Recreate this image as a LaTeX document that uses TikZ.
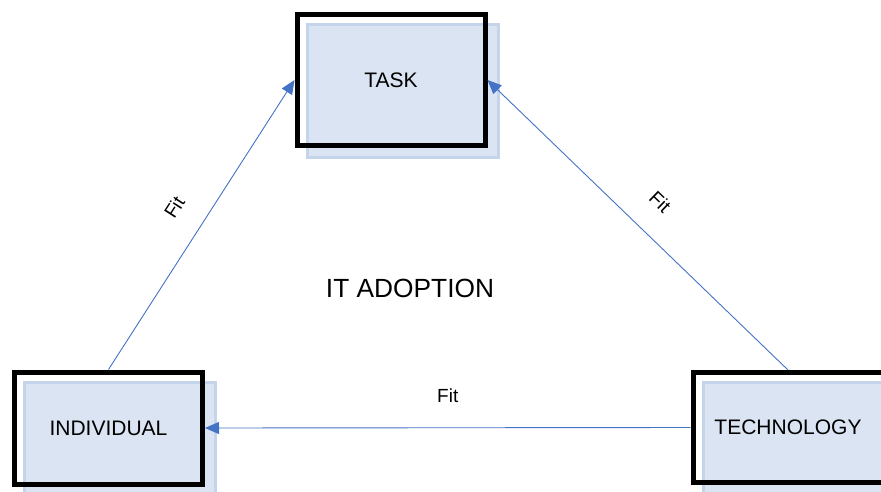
\documentclass[tikz,border=0pt]{standalone}
\usepackage{fontspec}
\setmainfont{Liberation Sans}
\usetikzlibrary{arrows.meta}
\definecolor{shadefill}{RGB}{219,228,242}
\definecolor{shadeline}{RGB}{196,212,234}
\definecolor{linkblue}{RGB}{68,114,196}
\begin{document}
\begin{tikzpicture}[x=1pt,y=-1pt,
  framebox/.style={draw=black,line width=5pt,rectangle,inner sep=0pt,
    font=\fontsize{21}{25}\selectfont},
  shadebox/.style={draw=shadeline,fill=shadefill,line width=3pt,rectangle,inner sep=0pt},
  link/.style={draw=linkblue,line width=0.9pt,-{Triangle[length=14pt,width=12pt]}},
  fitlabel/.style={sloped,pos=0.5,above=25pt,inner sep=0pt,
    font=\fontsize{19}{22}\selectfont},
  ]
\useasboundingbox (0,0) rectangle (881,491);
\begin{scope}
\clip (0,0) rectangle (881,491);
% light blue backing panels, offset down-right
\node[shadebox,minimum width=191pt,minimum height=133pt] (taskbg) at (403,91) {};
\node[shadebox,minimum width=191pt,minimum height=114pt] (indbg) at (120,439) {};
\node[shadebox,minimum width=193pt,minimum height=111pt] (techbg) at (800,438) {};
% black framed boxes
\node[framebox,minimum width=188pt,minimum height=131pt] (task) at (391,80) {TASK};
\node[framebox,minimum width=188pt,minimum height=112pt] (ind) at (108.5,428) {INDIVIDUAL};
\node[framebox,minimum width=190pt,minimum height=110pt] (tech) at (788,427.5) {TECHNOLOGY};
\end{scope}
% connectors
\draw[link] (ind.north) -- (task.west) node[fitlabel] {Fit};
\draw[link] (tech.north) -- (task.east) node[fitlabel] {Fit};
\draw[link] (tech.west) -- (ind.east) node[fitlabel] {Fit};
% centre caption
\node[font=\fontsize{26.3}{31}\selectfont] (adopt) at (410,288) {IT ADOPTION};
\end{tikzpicture}
\end{document}
